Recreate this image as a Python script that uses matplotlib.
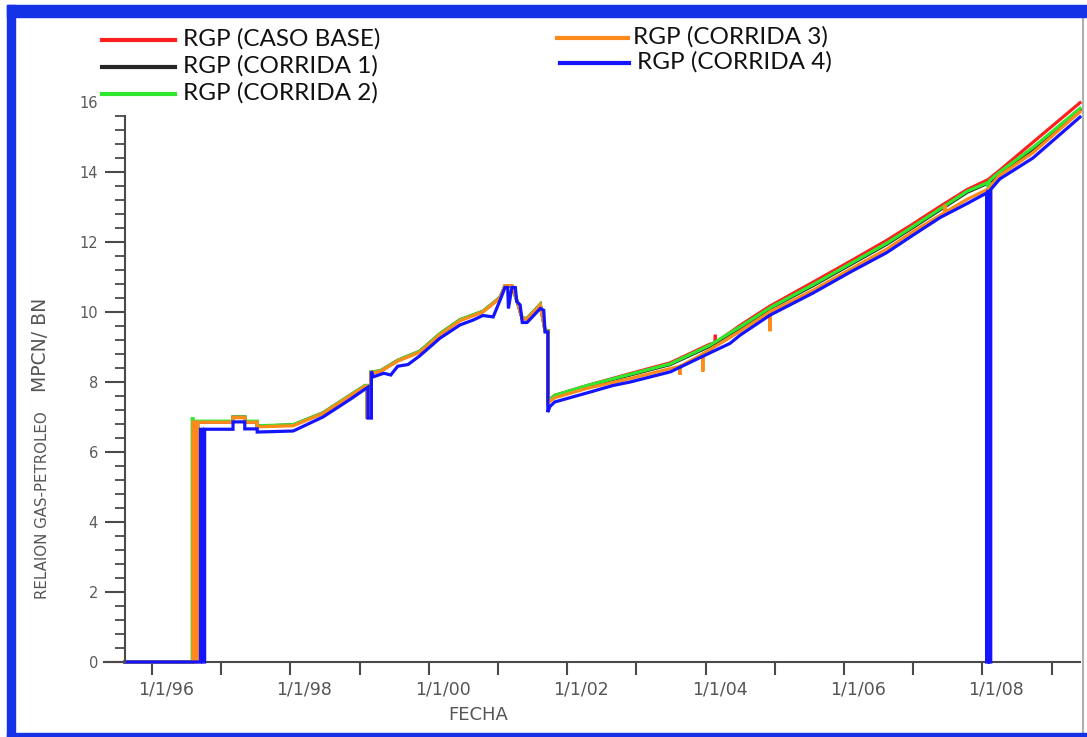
import matplotlib
matplotlib.use("Agg")
import matplotlib.pyplot as plt
import matplotlib.transforms as mtransforms
from matplotlib.lines import Line2D
from matplotlib.patches import Rectangle

# RGP (CASO BASE)
fechas_base = [1995.61, 1996.59, 1996.59,
               1997.17, 1997.17, 1997.34, 1997.34, 1997.52, 1997.52, 1998.04, 1998.47, 1998.86, 1999.08,
               1999.11, 1999.11, 1999.16, 1999.16, 1999.30, 1999.55, 1999.87, 2000.16, 2000.45, 2000.78,
               2001.03, 2001.10, 2001.20, 2001.27, 2001.35, 2001.42, 2001.61, 2001.68, 2001.72, 2001.72,
               2001.82, 2002.29, 2002.91, 2003.49, 2004.06, 2004.14, 2004.14, 2004.14, 2004.50, 2004.93,
               2005.55, 2006.09, 2006.62, 2007.00, 2007.39, 2007.78, 2008.08, 2008.25, 2008.73, 2009.41]
rgp_base = [0, 0, 6.86,
            6.86, 7.0, 7.0, 6.86, 6.86, 6.74, 6.77, 7.12, 7.62, 7.9,
            7.9, 7.0, 7.0, 8.28, 8.32, 8.62, 8.88, 9.38, 9.78, 10.02,
            10.42, 10.75, 10.75, 10.35, 9.82, 9.82, 10.22, 9.47, 9.47, 7.46,
            7.62, 7.9, 8.24, 8.55, 9.08, 9.12, 9.35, 9.12, 9.62, 10.17,
            10.85, 11.45, 12.05, 12.52, 13.02, 13.5, 13.78, 14.05, 14.85, 15.98]

# RGP (CORRIDA 1)
fechas_c1 = [1995.61, 1996.59, 1996.59, 1996.66, 1996.66,
             1997.17, 1997.17, 1997.34, 1997.34, 1997.52, 1997.52, 1998.04, 1998.47, 1998.86, 1999.08,
             1999.11, 1999.11, 1999.16, 1999.16, 1999.30, 1999.55, 1999.87, 2000.16, 2000.45, 2000.78,
             2001.03, 2001.10, 2001.20, 2001.27, 2001.35, 2001.42, 2001.61, 2001.68, 2001.72, 2001.72,
             2001.82, 2002.29, 2002.91, 2003.49, 2004.06, 2004.50, 2004.93, 2005.55, 2006.09, 2006.62,
             2007.00, 2007.39, 2007.78, 2008.08, 2008.08, 2008.10, 2008.10, 2008.25, 2008.73, 2009.41]
rgp_c1 = [0, 0, 6.05, 6.05, 6.86,
          6.86, 6.99, 6.99, 6.86, 6.86, 6.74, 6.77, 7.11, 7.61, 7.89,
          7.89, 7.0, 7.0, 8.27, 8.31, 8.61, 8.87, 9.37, 9.77, 10.01,
          10.41, 10.74, 10.74, 10.34, 9.81, 9.81, 10.21, 9.46, 9.46, 7.44,
          7.6, 7.88, 8.2, 8.5, 9.02, 9.55, 10.1, 10.75, 11.35, 11.94,
          12.42, 12.92, 13.42, 13.68, 13.68, 13.7, 13.7, 13.98, 14.65, 15.78]

# RGP (CORRIDA 2)
fechas_c2 = [1995.61, 1996.58, 1996.58, 1996.595, 1996.595, 1996.66, 1996.66,
             1997.17, 1997.17, 1997.34, 1997.34, 1997.52, 1997.52, 1998.04, 1998.47, 1998.86, 1999.08,
             1999.11, 1999.11, 1999.16, 1999.16, 1999.30, 1999.55, 1999.87, 2000.16, 2000.45, 2000.78,
             2001.03, 2001.10, 2001.20, 2001.27, 2001.35, 2001.42, 2001.61, 2001.68, 2001.72, 2001.72,
             2001.82, 2002.29, 2002.91, 2003.49, 2004.06, 2004.50, 2004.93, 2005.55, 2006.09, 2006.62,
             2007.00, 2007.39, 2007.78, 2008.08, 2008.08, 2008.10, 2008.10, 2008.25, 2008.73, 2009.41]
rgp_c2 = [0, 0, 6.95, 6.95, 6.05, 6.05, 6.88,
          6.88, 7.0, 7.0, 6.88, 6.88, 6.75, 6.78, 7.12, 7.62, 7.9,
          7.9, 7.0, 7.0, 8.28, 8.32, 8.62, 8.88, 9.38, 9.78, 10.02,
          10.42, 10.75, 10.75, 10.35, 9.82, 9.82, 10.22, 9.47, 9.47, 7.45,
          7.62, 7.9, 8.22, 8.52, 9.05, 9.58, 10.12, 10.78, 11.38, 11.97,
          12.45, 12.95, 13.45, 13.7, 13.2, 13.2, 13.75, 14.0, 14.7, 15.82]

# RGP (CORRIDA 3)
fechas_c3 = [1995.61, 1996.59, 1996.59, 1996.625, 1996.625, 1996.66, 1996.66,
             1997.17, 1997.17, 1997.34, 1997.34, 1997.52, 1997.52, 1998.04, 1998.47, 1998.86, 1999.08,
             1999.11, 1999.11, 1999.16, 1999.16, 1999.30, 1999.55, 1999.87, 2000.16, 2000.45, 2000.78,
             2001.03, 2001.10, 2001.20, 2001.27, 2001.35, 2001.42, 2001.61, 2001.68, 2001.72, 2001.72,
             2001.82, 2002.29, 2002.91, 2003.63, 2003.63, 2003.63, 2003.96, 2003.96, 2003.96, 2004.50,
             2004.93, 2004.93, 2004.93, 2005.55, 2006.09, 2006.62, 2007.00, 2007.46, 2007.46, 2007.46,
             2007.78, 2008.09, 2008.09, 2008.12, 2008.12, 2008.25, 2008.73, 2009.41]
rgp_c3 = [0, 0, 6.85, 6.85, 0, 0, 6.85,
          6.85, 6.98, 6.98, 6.85, 6.85, 6.72, 6.75, 7.1, 7.6, 7.88,
          7.88, 7.0, 7.0, 8.25, 8.3, 8.6, 8.85, 9.35, 9.75, 10.0,
          10.4, 10.75, 10.75, 10.35, 9.8, 9.8, 10.2, 9.45, 9.45, 7.4,
          7.55, 7.82, 8.1, 8.45, 8.2, 8.45, 8.8, 8.3, 8.8, 9.45,
          10.0, 9.45, 10.0, 10.62, 11.22, 11.8, 12.3, 12.85, 13.06, 12.85,
          13.22, 13.52, 12.1, 12.1, 13.6, 13.9, 14.55, 15.72]

# RGP (CORRIDA 4)
fechas_c4 = [1995.61, 1996.70, 1996.70, 1996.73, 1996.73, 1996.76, 1996.76,
             1997.17, 1997.17, 1997.34, 1997.34, 1997.52, 1997.52, 1998.04, 1998.47, 1998.86, 1999.08,
             1999.12, 1999.12, 1999.17, 1999.17, 1999.20, 1999.35, 1999.45, 1999.55, 1999.70, 1999.87,
             2000.16, 2000.45, 2000.64, 2000.78, 2000.93, 2001.03, 2001.10, 2001.14, 2001.15, 2001.20,
             2001.25, 2001.27, 2001.32, 2001.35, 2001.42, 2001.61, 2001.66, 2001.68, 2001.72, 2001.72,
             2001.75, 2001.82, 2002.29, 2002.66, 2002.91, 2003.49, 2004.06, 2004.35, 2004.50, 2004.93,
             2005.55, 2006.09, 2006.62, 2007.00, 2007.39, 2007.78,
             2008.06, 2008.06, 2008.08, 2008.08, 2008.10, 2008.10, 2008.12, 2008.12,
             2008.25, 2008.73, 2009.41]
rgp_c4 = [0, 0, 6.65, 6.65, 0, 0, 6.65,
          6.65, 6.86, 6.86, 6.66, 6.66, 6.57, 6.6, 7.0, 7.5, 7.8,
          7.85, 6.97, 6.97, 8.3, 8.15, 8.25, 8.2, 8.45, 8.5, 8.75,
          9.25, 9.63, 9.77, 9.9, 9.86, 10.34, 10.7, 10.7, 10.1, 10.7,
          10.7, 10.3, 10.2, 9.7, 9.7, 10.1, 10.05, 9.43, 9.43, 7.14,
          7.3, 7.43, 7.69, 7.9, 8.0, 8.29, 8.83, 9.1, 9.34, 9.91,
          10.54, 11.14, 11.7, 12.2, 12.7, 13.1,
          13.4, 0, 0, 13.45, 13.45, 0, 0, 13.5,
          13.8, 14.4, 15.57]

series = [
    ("RGP (CASO BASE)", fechas_base, rgp_base, "#ff1f1f"),
    ("RGP (CORRIDA 1)", fechas_c1, rgp_c1, "#262626"),
    ("RGP (CORRIDA 2)", fechas_c2, rgp_c2, "#2ee82e"),
    ("RGP (CORRIDA 3)", fechas_c3, rgp_c3, "#ff8a1c"),
    ("RGP (CORRIDA 4)", fechas_c4, rgp_c4, "#1414ff"),
]

anios = list(range(1996, 2010))
etiquetas_x = ["1/1/%02d" % (a % 100) if a % 2 == 0 else "" for a in anios]

W, H = 1087, 737
fig = plt.figure(figsize=(W / 100, H / 100), dpi=100)

def fx(px):
    return px / W

def fy(py):
    return 1 - py / H

ax = fig.add_axes([fx(103.6), fy(662), fx(1080) - fx(103.6), fy(91.5) - fy(662)])
ax.set_xlim(1995.30, 2009.41)
ax.set_ylim(0, 16.3)

for nombre, f, v, c in series:
    ax.plot(f, v, color=c, lw=2.3, clip_on=False, solid_joinstyle="miter")

gris = "#4a4a4a"
ax.spines["top"].set_visible(False)
ax.spines["right"].set_visible(False)
ax.spines["left"].set_position(("data", 1995.61))
ax.spines["left"].set_bounds(0, 15.6)
for s in ("left", "bottom"):
    ax.spines[s].set_color(gris)
    ax.spines[s].set_linewidth(1.5)
ax.spines["bottom"].set_zorder(0.5)

ax.set_xticks(anios)
ax.set_xticklabels(etiquetas_x)
ax.tick_params(axis="x", direction="out", length=9.5, width=1.5, color=gris,
               pad=3.5, labelsize=12.5, labelcolor="#555555")

ax.set_yticks(range(0, 17, 2))
ax.set_yticks([round(0.4 * i, 1) for i in range(40) if i % 5 != 0], minor=True)
ax.tick_params(axis="y", which="major", direction="out", length=14.5, width=1.5,
               color=gris, pad=5, labelsize=10.5, labelcolor="#5a5a5a")
ax.tick_params(axis="y", which="minor", direction="out", length=7.5, width=1.3, color=gris)
ax.yaxis.get_major_ticks()[-1].tick1line.set_visible(False)

# desplazar etiquetas de fecha a la derecha del tick
desp = mtransforms.ScaledTranslation(14 / 100, 0, fig.dpi_scale_trans)
for lab in ax.get_xticklabels():
    lab.set_transform(lab.get_transform() + desp)

fig.text(fx(478), fy(715), "FECHA", ha="center", va="center", fontsize=13, color="#555555")
fig.text(fx(40), fy(345), "MPCN/ BN", rotation=90, ha="center", va="center",
         fontsize=13.5, color="#555555")
fig.text(fx(43), fy(505), "RELAION GAS-PETROLEO", rotation=90, ha="center", va="center",
         fontsize=10.8, color="#555555")

# leyenda manual
leyenda_pos = [(102, 175, 40, 183), (102, 175, 67, 183), (102, 175, 94, 183),
               (557, 628, 38, 633), (560, 629, 63, 637)]
for (nombre, f, v, c), (x0, x1, yl, xt) in zip(series, leyenda_pos):
    fig.add_artist(Line2D([fx(x0), fx(x1)], [fy(yl), fy(yl)], color=c, lw=3,
                          transform=fig.transFigure))
    fig.text(fx(xt), fy(yl - 1), nombre, ha="left", va="center", fontsize=17.5,
             family="Lato", color="#111111")

# marco azul de la ventana
azul = "#1432e6"
fig.add_artist(Rectangle((fx(7), fy(17)), 1 - fx(7), fy(5) - fy(17), color=azul,
                         transform=fig.transFigure, zorder=10))
fig.add_artist(Rectangle((fx(7), 0), fx(15) - fx(7), fy(5), color=azul,
                         transform=fig.transFigure, zorder=10))
fig.add_artist(Rectangle((fx(7), 0), 1 - fx(7), fy(733), color=azul,
                         transform=fig.transFigure, zorder=10))
fig.add_artist(Line2D([fx(1083), fx(1083)], [fy(733), fy(17)], color="#b0b0b0", lw=1.5,
                      transform=fig.transFigure))

fig.savefig("out.png", dpi=100)
